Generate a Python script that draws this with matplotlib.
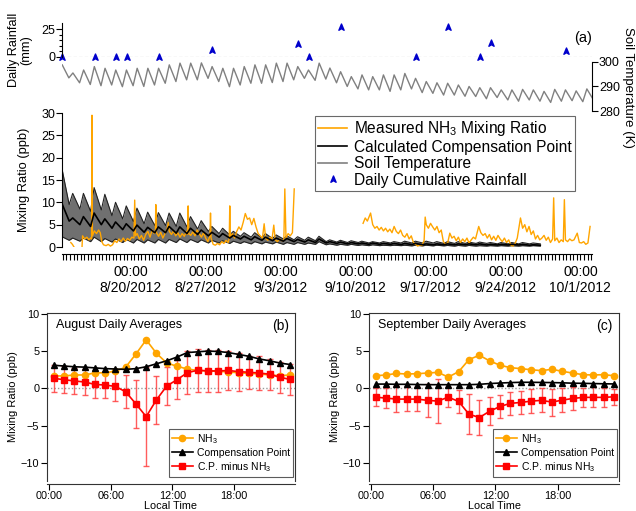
import numpy as np
import matplotlib
matplotlib.use('Agg')
import matplotlib.pyplot as plt
import matplotlib.dates as mdates
from matplotlib.path import Path
from matplotlib.lines import Line2D
from datetime import datetime

plt.rcParams['font.family'] = ['Liberation Sans', 'DejaVu Sans']
plt.rcParams['mathtext.default'] = 'regular'

# ---------------- data ----------------
REF = datetime(2012, 8, 20)          # t = days since 8/20/2012 00:00

# daily cumulative rainfall (mm)
rain_dates = ['2012-08-13', '2012-08-16', '2012-08-18', '2012-08-19', '2012-08-22',
              '2012-08-27', '2012-09-04', '2012-09-05', '2012-09-08', '2012-09-15',
              '2012-09-18', '2012-09-21', '2012-09-22', '2012-09-29']
rain_mm = [0, 0, 0, 0, 0, 6.1, 11.4, 0, 26.9, 0, 26.9, 0, 12.3, 5.2]

# soil temperature (K): daily afternoon maxima and morning minima
soil_t0 = -6.40
soil_max = [298.8, 295.5, 296.7, 298.1, 297.4, 296.7, 296.7, 297.4, 297.4, 297.4,
            298.8, 299.5, 299.5, 299.6, 298.1, 297.4, 297.4, 298.1, 298.8, 298.8,
            299.5, 299.5, 298.1, 296.7, 299.5, 297.5, 296.0, 294.0, 294.7, 294.0,
            294.7, 294.7, 295.3, 293.3, 292.0, 291.5, 291.3, 290.6, 290.0, 289.5,
            289.5, 288.6, 288.6, 288.8, 288.6, 288.0, 288.8, 288.6, 288.2, 289.0]
soil_min = [293.5, 291.5, 290.8, 290.3, 290.6, 289.9, 290.3, 290.0, 290.6, 291.3,
            292.0, 292.7, 292.7, 293.3, 292.0, 289.9, 290.6, 291.3, 291.3, 291.6,
            292.0, 292.7, 293.3, 292.5, 293.0, 291.5, 290.0, 289.0, 288.6, 288.6,
            288.0, 288.6, 289.0, 287.5, 287.2, 286.5, 286.5, 286.0, 285.9, 285.0,
            285.5, 284.5, 284.0, 284.5, 284.0, 283.5, 284.0, 284.2, 283.8, 284.5]

# calculated compensation point (ppb): daily peaks and troughs of band / centre
cp_t0 = -6.42
cp_hi_peak = [17.5, 12.0, 12.0, 13.3, 11.8, 10.0, 9.2, 8.7, 7.8, 7.7, 7.6, 7.6, 6.8, 5.9, 4.6,
              4.2, 3.5, 3.2, 3.2, 3.0, 2.7, 2.5, 2.3, 2.2, 2.4, 1.6, 1.5, 1.4, 1.3, 1.2,
              1.2, 1.2, 1.3, 1.3, 1.3, 1.2, 1.2, 1.2, 1.1, 1.1, 1.0, 1.0, 1.0, 1.0, 0.9]
cp_hi_trough = [9.5, 8.5, 8.0, 8.3, 7.0, 6.3, 5.7, 5.2, 4.8, 4.8, 4.6, 4.5, 4.0, 3.5, 3.0,
                2.7, 2.4, 2.2, 2.0, 1.9, 1.8, 1.6, 1.5, 1.4, 1.2, 1.1, 1.0, 1.0, 0.9, 0.9,
                0.9, 0.9, 0.9, 0.9, 0.9, 0.8, 0.8, 0.8, 0.8, 0.8, 0.7, 0.7, 0.7, 0.7, 0.7]
cp_mid_peak = [9.7, 6.5, 6.8, 7.6, 6.3, 5.6, 5.2, 4.9, 4.4, 4.5, 4.6, 4.5, 4.2, 3.8, 3.3,
               3.0, 2.6, 2.4, 2.3, 2.2, 2.0, 1.9, 1.7, 1.6, 1.8, 1.2, 1.1, 1.0, 0.9, 0.9,
               0.8, 0.8, 0.8, 0.8, 0.7, 0.7, 0.7, 0.7, 0.7, 0.7, 0.6, 0.6, 0.6, 0.6, 0.5]
cp_mid_trough = [5.8, 5.0, 4.6, 5.0, 4.2, 3.9, 3.6, 3.3, 3.2, 3.2, 3.1, 3.0, 2.8, 2.5, 2.2,
                 2.0, 1.8, 1.6, 1.5, 1.4, 1.3, 1.2, 1.1, 1.0, 0.9, 0.8, 0.7, 0.7, 0.6, 0.6,
                 0.6, 0.55, 0.55, 0.5, 0.5, 0.5, 0.5, 0.5, 0.5, 0.45, 0.45, 0.45, 0.45, 0.4, 0.4]
cp_lo_peak = [2.3, 2.0, 2.0, 2.2, 1.9, 1.8, 1.7, 1.7, 1.6, 1.7, 1.7, 1.8, 1.7, 1.6, 1.5,
              1.4, 1.3, 1.2, 1.2, 1.1, 1.1, 1.0, 1.0, 0.9, 1.2, 0.7, 0.6, 0.6, 0.5, 0.5,
              0.4, 0.4, 0.4, 0.4, 0.4, 0.4, 0.35, 0.35, 0.35, 0.3, 0.3, 0.3, 0.3, 0.3, 0.3]
cp_lo_trough = [1.5, 1.3, 1.2, 1.2, 1.1, 1.0, 0.9, 0.9, 0.9, 0.9, 1.0, 1.0, 1.0, 0.9, 0.9,
                0.8, 0.8, 0.7, 0.7, 0.7, 0.6, 0.6, 0.6, 0.6, 0.5, 0.4, 0.4, 0.35, 0.3, 0.3,
                0.3, 0.3, 0.25, 0.25, 0.25, 0.25, 0.2, 0.2, 0.2, 0.2, 0.2, 0.2, 0.2, 0.2, 0.2]

# measured NH3 mixing ratio (ppb): t in days since 8/20 00:00
nh3_t = [-5.60, -5.45, -5.30, -5.29,
         -4.55, -4.50, -4.30, -4.10, -3.90, -3.75, -3.66, -3.62, -3.58, -3.40, -3.20, -3.00,
         -2.85, -2.70, -2.55, -2.30, -2.10, -1.90, -1.70, -1.50, -1.30, -1.10, -0.90, -0.70,
         -0.50, -0.30, -0.10, 0.10, 0.30, 0.37, 0.45, 0.60, 0.80, 1.00, 1.20, 1.40, 1.60,
         1.80, 2.00, 2.20, 2.30, 2.34, 2.40, 2.60, 2.80, 3.00, 3.20, 3.40, 3.50, 3.60, 3.80,
         4.00, 4.20, 4.40, 4.60, 4.80, 5.00, 5.20, 5.30, 5.36, 5.42, 5.60, 5.80, 6.00, 6.20,
         6.40, 6.60, 6.80, 7.00, 7.20, 7.40, 7.45, 7.50, 7.70, 7.90, 8.10, 8.30, 8.50, 8.70,
         8.90, 9.10, 9.20, 9.25, 9.30, 9.50, 9.70, 9.90, 10.10, 10.30, 10.50, 10.70, 10.90,
         11.10, 11.30, 11.50, 11.70, 11.90, 12.10, 12.30, 12.46, 12.60, 12.80, 13.00, 13.20,
         13.36, 13.50, 13.70, 13.90, 14.10, 14.30, 14.39, 14.50, 14.70, 14.90, 15.10, 15.27,
         15.28,
         21.70, 21.90, 22.10, 22.40, 22.60, 22.80, 23.00, 23.20, 23.40, 23.60, 23.80, 24.00,
         24.20, 24.40, 24.60, 24.80, 25.00, 25.20, 25.40, 25.60, 25.80, 26.00, 26.20, 26.40,
         26.60, 26.80, 27.00, 27.20, 27.40, 27.50, 27.60, 27.80, 28.00, 28.20, 28.40, 28.60,
         28.80, 29.00, 29.20, 29.40, 29.60, 29.80, 30.00, 30.20, 30.40, 30.60, 30.80, 31.00,
         31.20, 31.40, 31.60, 31.80, 32.00, 32.20, 32.50, 32.70, 32.90, 33.10, 33.30, 33.50,
         33.70, 33.90, 34.10, 34.30, 34.50, 34.70, 34.90, 35.10, 35.30, 35.50, 35.70, 35.90,
         36.10, 36.40, 36.60, 36.80, 37.00, 37.20, 37.40, 37.60, 37.80, 38.00, 38.20, 38.40,
         38.60, 38.80, 39.00, 39.20, 39.40, 39.50, 39.60, 39.80, 40.00, 40.20, 40.40, 40.50,
         40.60, 40.80, 41.00, 41.20, 41.40, 41.70, 41.90, 42.10, 42.30, 42.50, 42.70, 42.90]
nh3_v = [1.0, 0.6, 0.0, np.nan,
         0.0, 2.5, 1.8, 2.2, 1.6, 2.0, 1.8, 29.5, 2.5, 3.6, 3.0, 3.8,
         3.2, 1.2, 0.5, 0.3, 0.6, 0.2, 0.5, 1.4, 1.0, 1.8, 1.2, 2.0,
         1.3, 1.9, 1.5, 2.2, 2.0, 10.5, 2.5, 3.0, 1.8, 2.6, 1.5, 2.8, 3.5,
         2.2, 3.8, 3.0, 3.5, 9.5, 3.2, 2.4, 3.3, 2.0, 3.0, 4.0, 5.5, 3.5, 2.8,
         3.6, 2.5, 3.2, 2.2, 3.0, 2.4, 3.5, 2.8, 9.2, 3.0, 2.6, 3.4, 2.5, 3.8,
         3.0, 2.2, 3.2, 2.0, 1.2, 2.5, 7.6, 2.0, 0.6, 0.4, 0.8, 0.5, 1.2, 0.8,
         1.5, 1.0, 2.0, 9.2, 2.2, 3.0, 2.0, 3.5, 4.5, 3.8, 5.5, 7.5, 6.2,
         6.5, 5.0, 6.4, 4.5, 3.0, 2.5, 2.0, 5.2, 2.0, 1.5, 2.2, 1.8,
         4.9, 1.6, 1.2, 1.8, 1.4, 1.5, 13.0, 2.0, 3.0, 2.5, 3.2, 13.0,
         np.nan,
         5.3, 6.5, 5.8, 7.6, 5.0, 4.2, 4.6, 3.8, 4.4, 3.6, 4.2, 3.4,
         4.0, 3.2, 4.6, 3.5, 3.0, 3.8, 2.6, 2.2, 3.0, 1.8, 2.5, 1.0,
         0.6, 0.2, 0.5, 0.3, 1.5, 6.7, 5.0, 4.2, 5.3, 4.5, 3.8, 4.6,
         3.2, 3.8, 1.2, 0.6, 0.9, 3.1, 2.0, 2.4, 1.4, 2.2, 1.0, 1.8,
         1.2, 2.0, 0.9, 1.6, 2.2, 1.8, 4.6, 3.2, 2.6, 3.0, 2.0, 2.8,
         1.6, 2.4, 1.5, 2.6, 1.8, 1.2, 2.0, 1.0, 1.6, 0.4, 0.2, 0.8,
         2.0, 6.5, 4.2, 5.0, 3.4, 4.6, 2.8, 3.6, 1.8, 2.6, 1.6, 2.0,
         2.6, 1.5, 2.2, 1.0, 1.8, 11.0, 1.4, 2.0, 1.0, 1.6, 1.2, 10.6,
         1.6, 1.2, 1.8, 1.4, 1.6, 3.1, 1.0, 0.9, 1.2, 0.6, 0.9, 4.6]

# tick labels for main panel
week_ticks = ['2012-08-20', '2012-08-27', '2012-09-03', '2012-09-10',
              '2012-09-17', '2012-09-24', '2012-10-01']
week_labels = ['00:00\n8/20/2012', '00:00\n8/27/2012', '00:00\n9/3/2012', '00:00\n9/10/2012',
               '00:00\n9/17/2012', '00:00\n9/24/2012', '00:00\n10/1/2012']

# diurnal averages (hour-of-day bins)
hours = [h + 0.45 for h in range(24)]
aug_nh3 = [1.67, 1.67, 1.8, 1.8, 2.07, 2.1, 2.3, 2.84, 4.6, 6.5, 4.7, 3.4,
           2.97, 2.6, 2.4, 2.35, 2.3, 2.2, 2.1, 2.0, 1.95, 1.8, 1.7, 1.8]
aug_cp = [3.1, 3.0, 2.9, 2.85, 2.75, 2.65, 2.6, 2.55, 2.65, 2.9, 3.3, 3.7,
          4.2, 4.8, 4.9, 5.0, 4.95, 4.8, 4.55, 4.3, 3.95, 3.7, 3.4, 3.2]
aug_diff = [1.35, 1.17, 1.0, 0.86, 0.54, 0.45, 0.27, -0.45, -2.07, -3.78, -1.53, 0.32,
            1.17, 2.1, 2.43, 2.34, 2.34, 2.4, 2.25, 2.16, 2.07, 1.9, 1.5, 1.2]
aug_err = [1.8, 1.8, 1.8, 1.8, 1.85, 1.8, 1.9, 2.2, 3.25, 6.6, 3.2, 2.55,
           2.6, 2.9, 2.9, 2.85, 2.85, 2.65, 2.55, 2.2, 2.3, 2.1, 2.1, 2.1]
sep_nh3 = [1.7, 1.8, 2.0, 1.93, 1.97, 2.06, 2.15, 1.52, 2.24, 3.86, 4.44, 3.68,
           3.1, 2.78, 2.65, 2.5, 2.38, 2.56, 2.29, 2.06, 1.84, 1.8, 1.84, 1.7]
sep_cp = [0.58, 0.58, 0.55, 0.55, 0.52, 0.5, 0.5, 0.5, 0.5, 0.5, 0.55, 0.65,
          0.72, 0.78, 0.82, 0.82, 0.8, 0.78, 0.75, 0.7, 0.68, 0.65, 0.62, 0.6]
sep_diff = [-1.17, -1.3, -1.43, -1.43, -1.43, -1.6, -1.7, -1.17, -1.75, -3.45, -3.9, -3.05,
            -2.42, -2.0, -1.88, -1.7, -1.6, -1.83, -1.57, -1.35, -1.2, -1.2, -1.2, -1.12]
sep_err = [1.2, 1.35, 1.75, 1.6, 1.6, 2.2, 2.9, 1.3, 1.6, 2.7, 2.4, 1.9,
           1.5, 1.5, 1.6, 1.6, 1.6, 1.8, 1.6, 1.5, 1.3, 1.35, 1.3, 1.1]
hour_ticks = [0, 6, 12, 18]
hour_labels = ['00:00', '06:00', '12:00', '18:00']

# ---------------- helpers ----------------
W, H = 636, 511
def rect(x0, y0, x1, y1):
    return [x0 / W, 1 - y1 / H, (x1 - x0) / W, (y1 - y0) / H]

def fx(px):
    return px / W

def fy(py):
    return 1 - py / H

ref_num = mdates.date2num(REF)
def tnum(t):
    return ref_num + np.asarray(t, dtype=float)

def zigzag(t0, peaks, troughs, dt=0.67):
    tt, vv = [], []
    for k, (p, q) in enumerate(zip(peaks, troughs)):
        tt += [t0 + k, t0 + k + dt]
        vv += [p, q]
    return np.array(tt), np.array(vv)

ORANGE = '#FFA500'
BLUE = '#0000CC'
GRAY = '#808080'

tri = Path([(0, 1), (0.75, -0.8), (0, -0.35), (-0.75, -0.8), (0, 1)],
           [Path.MOVETO, Path.LINETO, Path.LINETO, Path.LINETO, Path.CLOSEPOLY])

fig = plt.figure(figsize=(6.36, 5.11), dpi=100)

X0 = tnum(-6.42)
X1 = tnum(43.08)

# ---------------- top panel: rainfall ----------------
ax_r = fig.add_axes(rect(62, 23, 592, 57))
rain_x = [mdates.date2num(datetime.strptime(d, '%Y-%m-%d')) + 15 / 24 for d in rain_dates]
ax_r.axhline(0, color='#888888', lw=0.8, ls=(0, (3, 2)))
ax_r.plot(rain_x, rain_mm, ls='none', marker=tri, ms=5, color=BLUE, clip_on=False)
ax_r.set_xlim(X0, X1)
ax_r.set_ylim(-0.27, 30.75)
ax_r.set_yticks([0, 25])
ax_r.set_yticks([5, 10, 15, 20], minor=True)
ax_r.tick_params(axis='y', labelsize=9, length=4, width=0.8, pad=1)
ax_r.tick_params(axis='y', which='minor', length=2, width=0.8)
ax_r.set_xticks([])
for s in ['top', 'right', 'bottom']:
    ax_r.spines[s].set_visible(False)
ax_r.spines['left'].set_linewidth(0.8)
ax_r.patch.set_alpha(0)
fig.text(fx(20), fy(50), 'Daily Rainfall\n(mm)', rotation=90, fontsize=9.2,
         ha='center', va='center', linespacing=1.0, multialignment='center')
ax_r.text(1.0, 0.55, '(a)', transform=ax_r.transAxes, fontsize=10.5, ha='right', va='center')

# ---------------- top panel: soil temperature ----------------
ax_s = fig.add_axes(rect(62, 57, 592, 111))
st, sv = zigzag(soil_t0, soil_max, soil_min, dt=0.62)
ax_s.plot(tnum(st), sv, color=GRAY, lw=1.0)
ax_s.set_xlim(X0, X1)
ax_s.set_ylim(280, 302.0)
ax_s.yaxis.tick_right()
ax_s.set_yticks([280, 290, 300])
ax_s.tick_params(axis='y', labelsize=9, length=4, width=0.8, pad=1)
ax_s.set_xticks([])
for s in ['top', 'left', 'bottom']:
    ax_s.spines[s].set_visible(False)
ax_s.spines['right'].set_linewidth(0.8)
ax_s.spines['right'].set_bounds(280, 300)
ax_s.patch.set_alpha(0)
fig.text(fx(628), fy(87), 'Soil Temperature (K)', rotation=-90, fontsize=9.5,
         ha='center', va='center')

# ---------------- main panel ----------------
ax = fig.add_axes(rect(62, 113, 592, 247))
ht, hv = zigzag(cp_t0, cp_hi_peak, cp_hi_trough)
mt, mv = zigzag(cp_t0, cp_mid_peak, cp_mid_trough)
lt, lv = zigzag(cp_t0, cp_lo_peak, cp_lo_trough)
ax.fill_between(tnum(ht), lv, hv, color='#707070', lw=0)
ax.plot(tnum(ht), hv, color='#222222', lw=0.8)
ax.plot(tnum(lt), lv, color='#222222', lw=0.8)
ax.plot(tnum(nh3_t), nh3_v, color=ORANGE, lw=1.0)
ax.plot(tnum(mt), mv, color='black', lw=1.2)
ax.set_xlim(X0, X1)
ax.set_ylim(0, 30)
ax.set_yticks([0, 5, 10, 15, 20, 25, 30])
wx = [mdates.date2num(datetime.strptime(d, '%Y-%m-%d')) for d in week_ticks]
ax.set_xticks(wx)
ax.set_xticklabels(week_labels, fontsize=8.7, linespacing=1.2)
ax.xaxis.set_minor_locator(mdates.HourLocator(byhour=[0, 8, 16]))
ax.tick_params(axis='y', labelsize=9, length=4, width=0.8, pad=1)
ax.tick_params(axis='x', which='both', length=4, width=0.8, pad=4)
for s in ['top', 'right']:
    ax.spines[s].set_visible(False)
ax.spines['bottom'].set_position(('outward', 5))
ax.spines['left'].set_linewidth(0.8)
ax.spines['bottom'].set_linewidth(0.8)
fig.text(fx(24), fy(180), 'Mixing Ratio (ppb)', rotation=90, fontsize=9.3,
         ha='center', va='center')
handles = [Line2D([], [], color=ORANGE, lw=1.2),
           Line2D([], [], color='black', lw=1.2),
           Line2D([], [], color=GRAY, lw=1.2),
           Line2D([], [], ls='none', marker=tri, ms=5, color=BLUE)]
labels = ['Measured NH$_3$ Mixing Ratio', 'Calculated Compensation Point',
          'Soil Temperature', 'Daily Cumulative Rainfall']
leg = ax.legend(handles, labels, loc='upper right', bbox_to_anchor=(0.968, 0.978),
                fontsize=11.2, frameon=True, fancybox=False, edgecolor='#444444',
                handlelength=1.85, handletextpad=0.45, borderpad=0.2, labelspacing=0.1,
                borderaxespad=0)
leg.get_frame().set_linewidth(0.8)

# ---------------- bottom panels ----------------
def diurnal(rect_px, nh3, cp, diff, err, title, tag):
    a = fig.add_axes(rect(*rect_px))
    a.axhline(0, color='#999999', lw=1.0, ls=(0, (1, 1.5)))
    a.errorbar(hours, diff, yerr=err, fmt='none', ecolor='#FF4040', elinewidth=1.0,
               capsize=2.5, capthick=1.0, alpha=0.85, zorder=2)
    a.plot(hours, nh3, color=ORANGE, lw=1.2, marker='o', ms=4.5, label='NH$_3$', zorder=3)
    a.plot(hours, cp, color='black', lw=1.2, marker='^', ms=4.5,
           label='Compensation Point', zorder=4)
    a.plot(hours, diff, color='#FF0000', lw=1.2, marker='s', ms=4.5,
           label='C.P. minus NH$_3$', zorder=5)
    a.set_xlim(-0.2, 23.93)
    a.set_ylim(-12.4, 10.1)
    a.set_yticks([-10, -5, 0, 5, 10])
    a.set_xticks(hour_ticks)
    a.set_xticklabels(hour_labels)
    a.tick_params(labelsize=7.8, length=4, width=0.8, pad=1.5)
    a.tick_params(axis='x', pad=1.5)
    a.spines['bottom'].set_position(('outward', 2))
    for s in a.spines.values():
        s.set_linewidth(0.8)
        s.set_color('#333333')
    a.set_ylabel('Mixing Ratio (ppb)', fontsize=8, labelpad=2)
    x0, x1 = rect_px[0], rect_px[2]
    fig.text(fx((x0 + x1) / 2), fy(508.5), 'Local Time', fontsize=7.8,
             ha='center', va='baseline')
    a.text(0.035, 0.965, title, transform=a.transAxes, fontsize=9, ha='left', va='top')
    a.text(0.975, 0.965, tag, transform=a.transAxes, fontsize=10, ha='right', va='top')
    lg = a.legend(loc='lower right', bbox_to_anchor=(0.992, 0.024), fontsize=7.5,
                  frameon=True, fancybox=False, edgecolor='#333333', borderaxespad=0,
                  handlelength=2.0, labelspacing=0.2, borderpad=0.3, handletextpad=0.4)
    lg.get_frame().set_linewidth(0.8)
    return a

diurnal((47, 313, 295, 481), aug_nh3, aug_cp, aug_diff, aug_err, 'August Daily Averages', '(b)')
diurnal((369, 313, 619, 481), sep_nh3, sep_cp, sep_diff, sep_err, 'September Daily Averages', '(c)')

fig.savefig('out.png', dpi=100)
